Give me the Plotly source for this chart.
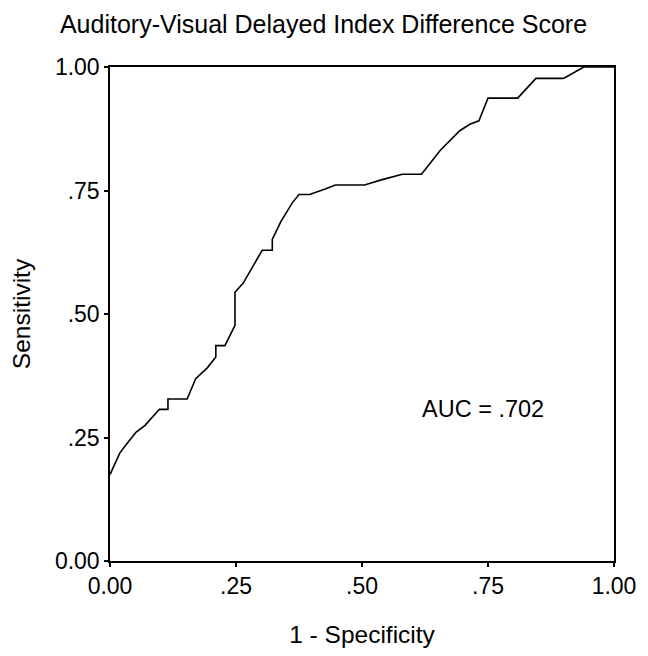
import plotly.graph_objects as go

fpr = [0.0, 0.0196, 0.033, 0.052, 0.069, 0.098, 0.115, 0.115, 0.153, 0.170, 0.193, 0.210, 0.210,
       0.228, 0.248, 0.248, 0.264, 0.302, 0.322, 0.322, 0.339, 0.361, 0.375, 0.396, 0.427,
       0.447, 0.505, 0.540, 0.580, 0.618, 0.655, 0.694, 0.714, 0.732, 0.750, 0.809, 0.845,
       0.900, 0.940, 1.0]
tpr = [0.175, 0.219, 0.237, 0.261, 0.274, 0.307, 0.307, 0.328, 0.328, 0.369, 0.391, 0.413, 0.436,
       0.436, 0.477, 0.544, 0.562, 0.629, 0.629, 0.651, 0.687, 0.724, 0.742, 0.742, 0.753,
       0.761, 0.761, 0.772, 0.783, 0.783, 0.831, 0.871, 0.884, 0.891, 0.937, 0.937, 0.977,
       0.977, 1.0, 1.0]

tick_vals = [0, 0.25, 0.5, 0.75, 1.0]
tick_text = ["0.00", ".25", ".50", ".75", "1.00"]

title_text = "Auditory-Visual Delayed Index Difference Score"
auc_text = "AUC = .702"

FONT = "Liberation Sans, Arial, sans-serif"

fig = go.Figure()
fig.add_trace(go.Scatter(x=fpr, y=tpr, mode="lines",
                         line=dict(color="black", width=1.6), showlegend=False))

fig.add_annotation(x=0.740, y=0.308, text=auc_text, showarrow=False,
                   font=dict(family=FONT, size=23.5, color="black"))

axis_common = dict(range=[0, 1], tickvals=tick_vals, ticktext=tick_text,
                   showgrid=False, zeroline=False, showline=True, linecolor="black",
                   linewidth=1.5, mirror=True, ticks="outside", ticklen=4, tickwidth=1.5,
                   tickcolor="black",
                   tickfont=dict(family=FONT, size=23, color="black"))

fig.update_layout(
    width=640, height=648,
    margin=dict(l=100, r=29, t=59, b=89),
    paper_bgcolor="white", plot_bgcolor="white",
    title=dict(text=title_text, x=0.493, xanchor="center", y=0.975, yanchor="middle",
               font=dict(family=FONT, size=25, color="black")),
    xaxis=dict(**axis_common,
               title=dict(text="1 - Specificity", standoff=28,
                          font=dict(family=FONT, size=24.5, color="black"))),
    yaxis=dict(**axis_common,
               title=dict(text="Sensitivity", standoff=18,
                          font=dict(family=FONT, size=24.5, color="black"))),
)

fig.write_html("out.html")
